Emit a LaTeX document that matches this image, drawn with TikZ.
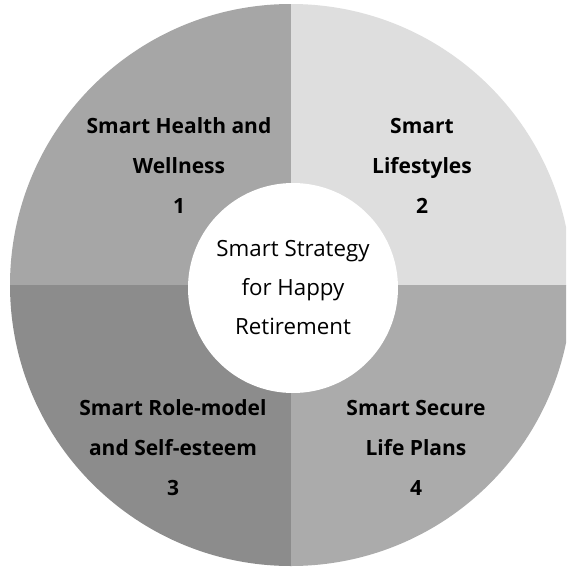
\documentclass[tikz,border=0pt]{standalone}
\usepackage{fontspec}
\setmainfont{Open Sans}
\begin{document}
\begin{tikzpicture}[x=1pt,y=-1pt,
  quadlabel/.style={font=\fontsize{21}{40}\selectfont\bfseries, align=center, text=black, inner sep=0pt},
  centerlabel/.style={circle, fill=white, minimum size=210pt, inner sep=0pt, align=center,
    font=\fontsize{22.3}{39}\selectfont}]
\useasboundingbox (0,0) rectangle (566,571);
\clip (0,0) rectangle (566,571);
\fill[white] (0,0) rectangle (566,571);
\coordinate (c) at (291,285);
\colorlet{qone}{black!35}
\colorlet{qtwo}{black!13}
\colorlet{qthree}{black!45}
\colorlet{qfour}{black!33}
\begin{scope}
  \clip (0,0) rectangle (291,285);
  \fill[qone] (c) circle (281pt);
\end{scope}
\begin{scope}
  \clip (291,0) rectangle (566,285);
  \fill[qtwo] (c) circle (281pt);
\end{scope}
\begin{scope}
  \clip (0,285) rectangle (291,571);
  \fill[qthree] (c) circle (281pt);
\end{scope}
\begin{scope}
  \clip (291,285) rectangle (566,571);
  \fill[qfour] (c) circle (281pt);
\end{scope}
\node[centerlabel] (mid) at (293,288) {Smart Strategy\\for Happy\\Retirement};
\node[quadlabel] (q1) at (179,166) {Smart Health and\\Wellness\\1};
\node[quadlabel] (q2) at (422,166) {Smart\\Lifestyles\\2};
\node[quadlabel] (q3) at (173,448) {Smart Role-model\\and Self-esteem\\3};
\node[quadlabel] (q4) at (416,448) {Smart Secure\\Life Plans\\4};
\end{tikzpicture}
\end{document}
